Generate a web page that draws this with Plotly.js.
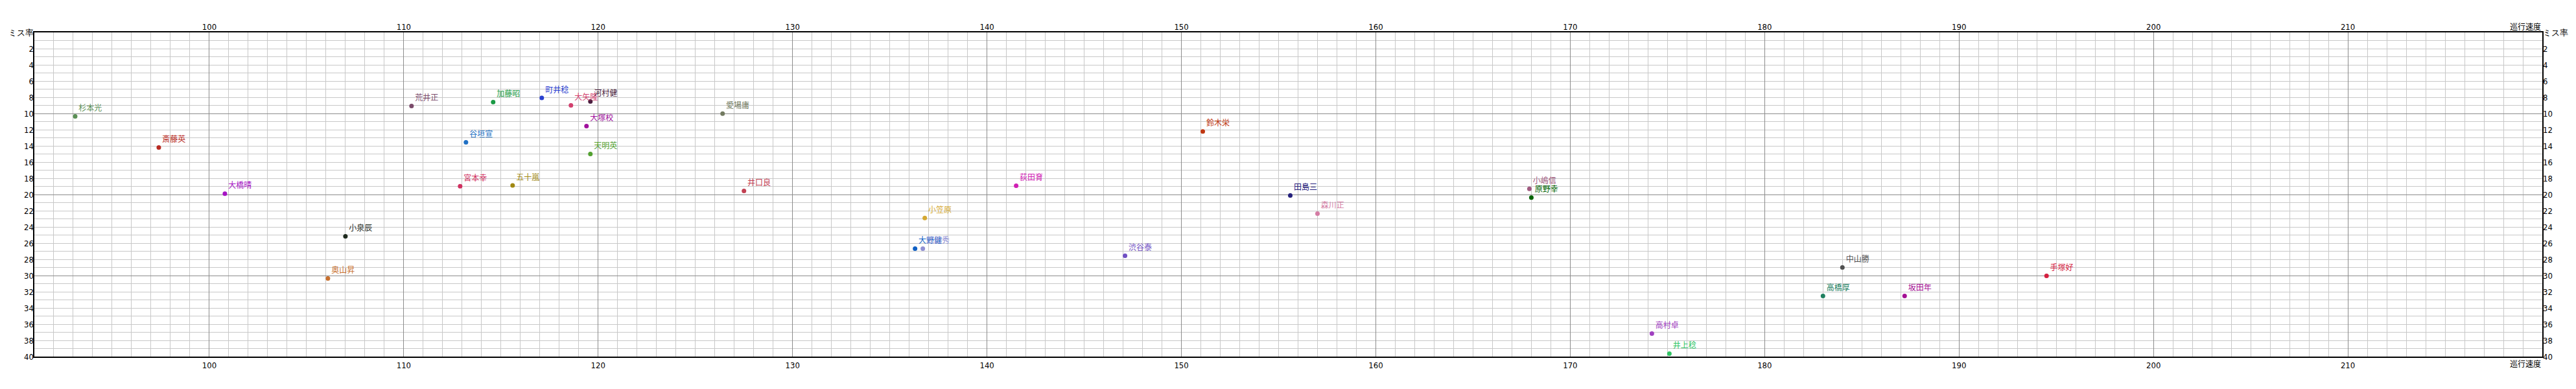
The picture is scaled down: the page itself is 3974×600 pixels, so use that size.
<!DOCTYPE html>
<html>
<head>
<meta charset="utf-8">
<script src="https://cdn.plot.ly/plotly-3.0.1.min.js"></script>
<style>html,body{margin:0;padding:0;background:#fff;}#chart{width:3974px;height:600px;}</style>
</head>
<body>
<div id="chart"></div>
<script>
// ---- data ----
const names = ["杉本光","斎藤英","大橋晴","小泉辰","奥山昇","荒井正","加藤昭","町井稔","大矢隆","河村健","愛場庸","大塚校","谷垣宣","天明英","宮本幸","五十嵐","井口良","小笠原","大野健","武田秀","渋谷泰","荻田育","鈴木栄","田島三","森川正","小嶋信","原野幸","高村卓","井上稔","高橋厚","中山勝","坂田年","手塚好"];
const speeds = [93.1, 97.4, 100.8, 107.0, 106.1, 110.4, 114.6, 117.1, 118.6, 119.6, 126.4, 119.4, 113.2, 119.6, 112.9, 115.6, 127.5, 136.8, 136.3, 136.7, 147.1, 141.5, 151.1, 155.6, 157.0, 167.9, 168.0, 174.2, 175.1, 183.0, 184.0, 187.2, 194.5];
const missRates = [10.35, 14.2, 19.9, 25.15, 30.35, 9.07, 8.59, 8.08, 8.99, 8.51, 10.03, 11.55, 13.55, 14.99, 18.99, 18.88, 19.55, 22.9, 26.67, 26.67, 27.55, 18.91, 12.21, 20.11, 22.35, 19.31, 20.37, 37.15, 39.63, 32.51, 28.99, 32.51, 30.03];
const xTickVals = [100, 110, 120, 130, 140, 150, 160, 170, 180, 190, 200, 210];
const xTickText = ["100","110","120","130","140","150","160","170","180","190","200","210"];
const yTickVals = [0,2,4,6,8,10,12,14,16,18,20,22,24,26,28,30,32,34,36,38,40];
const yTickText = ["ミス率","2","4","6","8","10","12","14","16","18","20","22","24","26","28","30","32","34","36","38","40"];
const xTitle = "巡行速度";

// ---- styles ----
const colors = ["#5b8f55","#b82a22","#a614c4","#1e2a1e","#c8702e","#7a4a6a","#1a9a44","#2a40d0","#d2406e","#4a1e40","#727a60","#a0109c","#2070c4","#52a030","#d03060","#a08812","#c24052","#d4a832","#1060c4","#9090d4","#7050c4","#d020b4","#c03812","#24207c","#d47ca4","#a05a80","#006400","#a040c0","#30c464","#208060","#505050","#a41094","#d42040"];

const fontNum = "'Liberation Sans Narrow','DejaVu Sans Condensed',sans-serif";
const fontCJK = "'Noto Sans CJK JP',sans-serif";

const intsX = []; for (let v = 91; v <= 220; v++) intsX.push(v);
const intsY = []; for (let v = 0; v <= 40; v++) intsY.push(v);

const trace = {
  type: 'scatter', mode: 'markers+text',
  x: speeds, y: missRates, text: names,
  textposition: 'top right',
  marker: {size: 7, color: colors},
  textfont: {family: fontCJK, size: 12, color: colors},
  cliponaxis: false, hoverinfo: 'skip', showlegend: false,
  xaxis: 'x', yaxis: 'y'
};
const dummy2 = {type:'scatter', x:[], y:[], xaxis:'x2', yaxis:'y', showlegend:false};
const dummy3 = {type:'scatter', x:[], y:[], xaxis:'x', yaxis:'y2', showlegend:false};
const dummy4 = {type:'scatter', x:[], y:[], xaxis:'x', yaxis:'y3', showlegend:false};

const tickFont = {family: fontNum, size: 13, color: '#000'};

const layout = {
  width: 3974, height: 600,
  margin: {l: 53, r: 52, t: 50, b: 50},
  paper_bgcolor: '#fff', plot_bgcolor: '#fff',
  showlegend: false,
  xaxis: {
    range: [91, 220], tickmode: 'array', tickvals: xTickVals, ticktext: xTickText,
    side: 'bottom', showgrid: true, gridcolor: '#8c8c8c', gridwidth: 1,
    minor: {tickmode: 'array', tickvals: intsX, showgrid: true, gridcolor: '#c8c8c8', gridwidth: 1, ticks: ''},
    showline: true, linecolor: '#000', linewidth: 2, mirror: true,
    ticks: '', zeroline: false, tickfont: tickFont, fixedrange: true
  },
  xaxis2: {
    overlaying: 'x', anchor: 'y', side: 'top',
    range: [91, 220], tickmode: 'array', tickvals: xTickVals, ticktext: xTickText,
    showgrid: false, zeroline: false, ticks: '', showline: false, tickfont: tickFont, fixedrange: true
  },
  yaxis: {
    range: [40, 0], tickmode: 'array', tickvals: [10, 20, 30], showticklabels: false,
    showgrid: true, gridcolor: '#8c8c8c', gridwidth: 1,
    minor: {tickmode: 'array', tickvals: intsY, showgrid: true, gridcolor: '#c8c8c8', gridwidth: 1, ticks: ''},
    showline: true, linecolor: '#000', linewidth: 2, mirror: true,
    ticks: '', zeroline: false, fixedrange: true
  },
  yaxis2: {
    overlaying: 'y', anchor: 'x', side: 'left',
    range: [40, 0], tickmode: 'array', tickvals: yTickVals, ticktext: yTickText,
    showgrid: false, zeroline: false, ticks: '', showline: false,
    tickfont: {family: fontNum, size: 13, color: '#000'}, fixedrange: true
  },
  yaxis3: {
    overlaying: 'y', anchor: 'x', side: 'right',
    range: [40, 0], tickmode: 'array', tickvals: yTickVals, ticktext: yTickText,
    showgrid: false, zeroline: false, ticks: '', showline: false,
    tickfont: {family: fontNum, size: 13, color: '#000'}, fixedrange: true
  },
  annotations: [
    {text: xTitle, xref: 'paper', yref: 'paper', x: 1, y: 1, xanchor: 'right', yanchor: 'bottom',
     showarrow: false, font: {family: fontCJK, size: 12, color: '#000'}, yshift: -1},
    {text: xTitle, xref: 'paper', yref: 'paper', x: 1, y: 0, xanchor: 'right', yanchor: 'top',
     showarrow: false, font: {family: fontCJK, size: 12, color: '#000'}, yshift: 0}
  ]
};

Plotly.newPlot('chart', [dummy2, dummy3, dummy4, trace], layout, {staticPlot: true, displayModeBar: false});
</script>
</body>
</html>
